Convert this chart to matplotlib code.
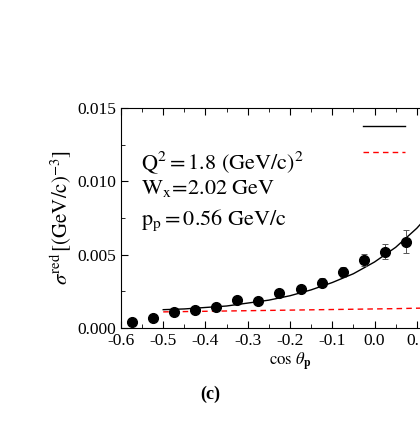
import matplotlib
matplotlib.use("Agg")
import matplotlib.pyplot as plt
import numpy as np
from matplotlib.ticker import MultipleLocator

plt.rcParams['font.family'] = ['Liberation Serif', 'DejaVu Serif']
plt.rcParams['mathtext.fontset'] = 'stix'

x_data = [-0.575, -0.525, -0.475, -0.425, -0.375, -0.325, -0.275, -0.225, -0.175, -0.125, -0.075, -0.025, 0.025, 0.075]
y_data = [0.00043, 0.0007, 0.00111, 0.00123, 0.00141, 0.00189, 0.00184, 0.00237, 0.00264, 0.00309, 0.00382, 0.00464, 0.0052, 0.00589]
y_err = [0.0001, 0.0001, 0.0001, 0.0001, 0.00012, 0.00015, 0.00015, 0.0002, 0.00025, 0.0003, 0.00033, 0.0004, 0.0005, 0.0008]

x_curve = [-0.5, -0.45, -0.4, -0.35, -0.3, -0.25, -0.2, -0.15, -0.1, -0.05, 0.0, 0.05, 0.1, 0.15]
y_solid = [0.00125, 0.0013, 0.0014, 0.0015, 0.0017, 0.0019, 0.0022, 0.0026, 0.0031, 0.0037, 0.0045, 0.0055, 0.0068, 0.0084]
y_dash = [0.0011, 0.00112, 0.00114, 0.00116, 0.00118, 0.0012, 0.00122, 0.00124, 0.00126, 0.00128, 0.0013, 0.00132, 0.00135, 0.00137]

fig = plt.figure(figsize=(4.2, 4.29), dpi=100)
ax = fig.add_axes([0.288, 0.2354, 0.805, 0.513])
ax.plot(x_curve, y_solid, color='black', lw=1.0, label=' ')
ax.plot(x_curve, y_dash, color='red', lw=1.0, ls=(0, (4, 3)), label=' ')
ax.errorbar(x_data, y_data, yerr=y_err, fmt='o', color='black', ms=7,
            ecolor='#555555', elinewidth=0.7, capsize=2.5, capthick=0.7)
ax.set_xlim(-0.6, 0.2)
ax.set_ylim(0, 0.015)
ax.xaxis.set_minor_locator(MultipleLocator(0.05))
ax.yaxis.set_minor_locator(MultipleLocator(0.0025))
ax.set_xticks([-0.6, -0.5, -0.4, -0.3, -0.2, -0.1, 0.0, 0.1])
ax.set_xticklabels(['-0.6', '-0.5', '-0.4', '-0.3', '-0.2', '-0.1', '0.0', '0.1'])
ax.set_yticks([0.0, 0.005, 0.010, 0.015])
ax.set_yticklabels(['0.000', '0.005', '0.010', '0.015'])
ax.tick_params(which='both', direction='in', top=True, right=True, labelsize=12.5)
ax.tick_params(which='major', length=5)
ax.tick_params(which='minor', length=3)
ax.set_ylabel(r'$\sigma^{\rm red}\,[({\rm GeV/c})^{-3}]$', fontsize=15, labelpad=2)
ax.set_xlabel(r'$\cos\,\theta_{\mathbf{p}}$', fontsize=12, labelpad=1)
ax.text(0.06, 0.72, r'$\rm Q^2 = 1.8\ (GeV/c)^2$', transform=ax.transAxes, fontsize=16)
ax.text(0.06, 0.61, r'$\rm W_x\!=\!2.02\ GeV$', transform=ax.transAxes, fontsize=16)
ax.text(0.06, 0.47, r'$\rm p_p = 0.56\ GeV/c$', transform=ax.transAxes, fontsize=16)
ax.legend(loc='upper left', bbox_to_anchor=(0.70, 0.965), frameon=False,
          handlelength=3.0, fontsize=10, borderaxespad=0, labelspacing=0.9)
fig.text(0.5, 0.07, '(c)', fontsize=13, fontweight='bold', ha='center')
fig.savefig('out.png', dpi=100)
